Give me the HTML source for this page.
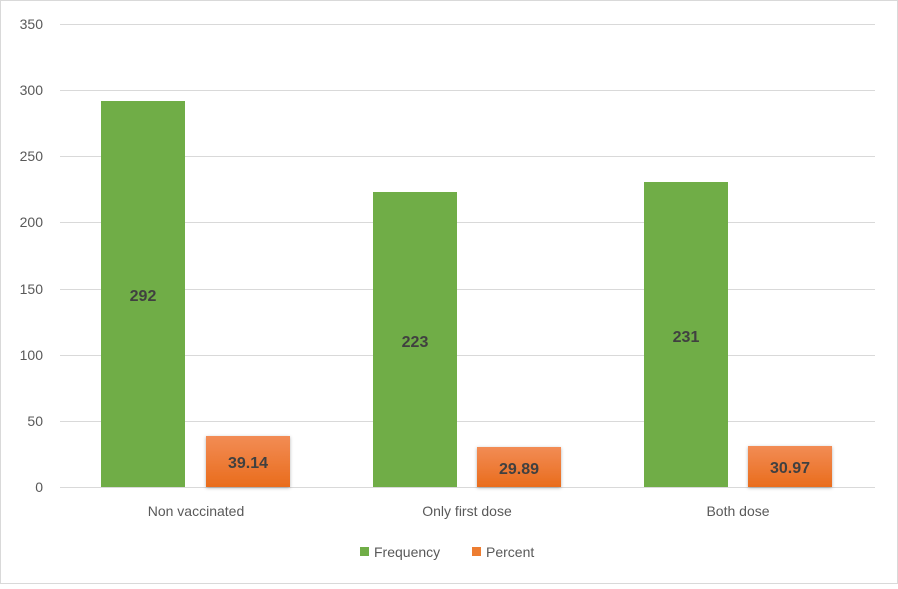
<!DOCTYPE html>
<html><head><style>
body{margin:0;background:#fff}
svg text{font-family:"Liberation Sans",sans-serif}
</style></head><body>
<svg width="898" height="584" xmlns="http://www.w3.org/2000/svg">
<defs>
<linearGradient id="og" x1="0" y1="0" x2="0" y2="1"><stop offset="0" stop-color="#f28c55"/><stop offset="1" stop-color="#e96c1c"/></linearGradient>
<filter id="sh" x="-20%" y="-20%" width="140%" height="140%"><feDropShadow dx="0" dy="1" stdDeviation="1.5" flood-color="#000" flood-opacity="0.3"/></filter>
</defs>
<rect x="0.5" y="0.5" width="897" height="583" fill="#fff" stroke="#d9d9d9"/>
<g stroke="#d9d9d9" stroke-width="1">
<line x1="60" x2="875" y1="24.5" y2="24.5"/><line x1="60" x2="875" y1="90.5" y2="90.5"/>
<line x1="60" x2="875" y1="156.5" y2="156.5"/><line x1="60" x2="875" y1="222.5" y2="222.5"/>
<line x1="60" x2="875" y1="289.5" y2="289.5"/><line x1="60" x2="875" y1="355.5" y2="355.5"/>
<line x1="60" x2="875" y1="421.5" y2="421.5"/><line x1="60" x2="875" y1="487.5" y2="487.5"/>
</g>
<g font-size="14" fill="#595959" text-anchor="end">
<text x="43" y="29">350</text><text x="43" y="95">300</text><text x="43" y="161">250</text>
<text x="43" y="227">200</text><text x="43" y="294">150</text><text x="43" y="360">100</text>
<text x="43" y="426">50</text><text x="43" y="492">0</text>
</g>
<g fill="#70ad47">
<rect x="101" y="101" width="84" height="386"/>
<rect x="373" y="192" width="84" height="295"/>
<rect x="644" y="182" width="84" height="305"/>
</g>
<g fill="url(#og)" filter="url(#sh)">
<rect x="206" y="436" width="84" height="51"/>
<rect x="477" y="447" width="84" height="40"/>
<rect x="748" y="446" width="84" height="41"/>
</g>
<g font-size="16" font-weight="bold" fill="#404040" text-anchor="middle">
<text x="143" y="301">292</text><text x="415" y="347">223</text><text x="686" y="342">231</text>
<text x="248" y="468">39.14</text><text x="519" y="474">29.89</text><text x="790" y="473">30.97</text>
</g>
<g font-size="14" fill="#595959" text-anchor="middle">
<text x="196" y="516">Non vaccinated</text><text x="467" y="516">Only first dose</text><text x="738" y="516">Both dose</text>
</g>
<rect x="360" y="547" width="9" height="9" fill="#70ad47"/>
<text x="374" y="557" font-size="14" fill="#595959">Frequency</text>
<rect x="472" y="547" width="9" height="9" fill="#ed7d31"/>
<text x="486" y="557" font-size="14" fill="#595959">Percent</text>
</svg>
</body></html>
